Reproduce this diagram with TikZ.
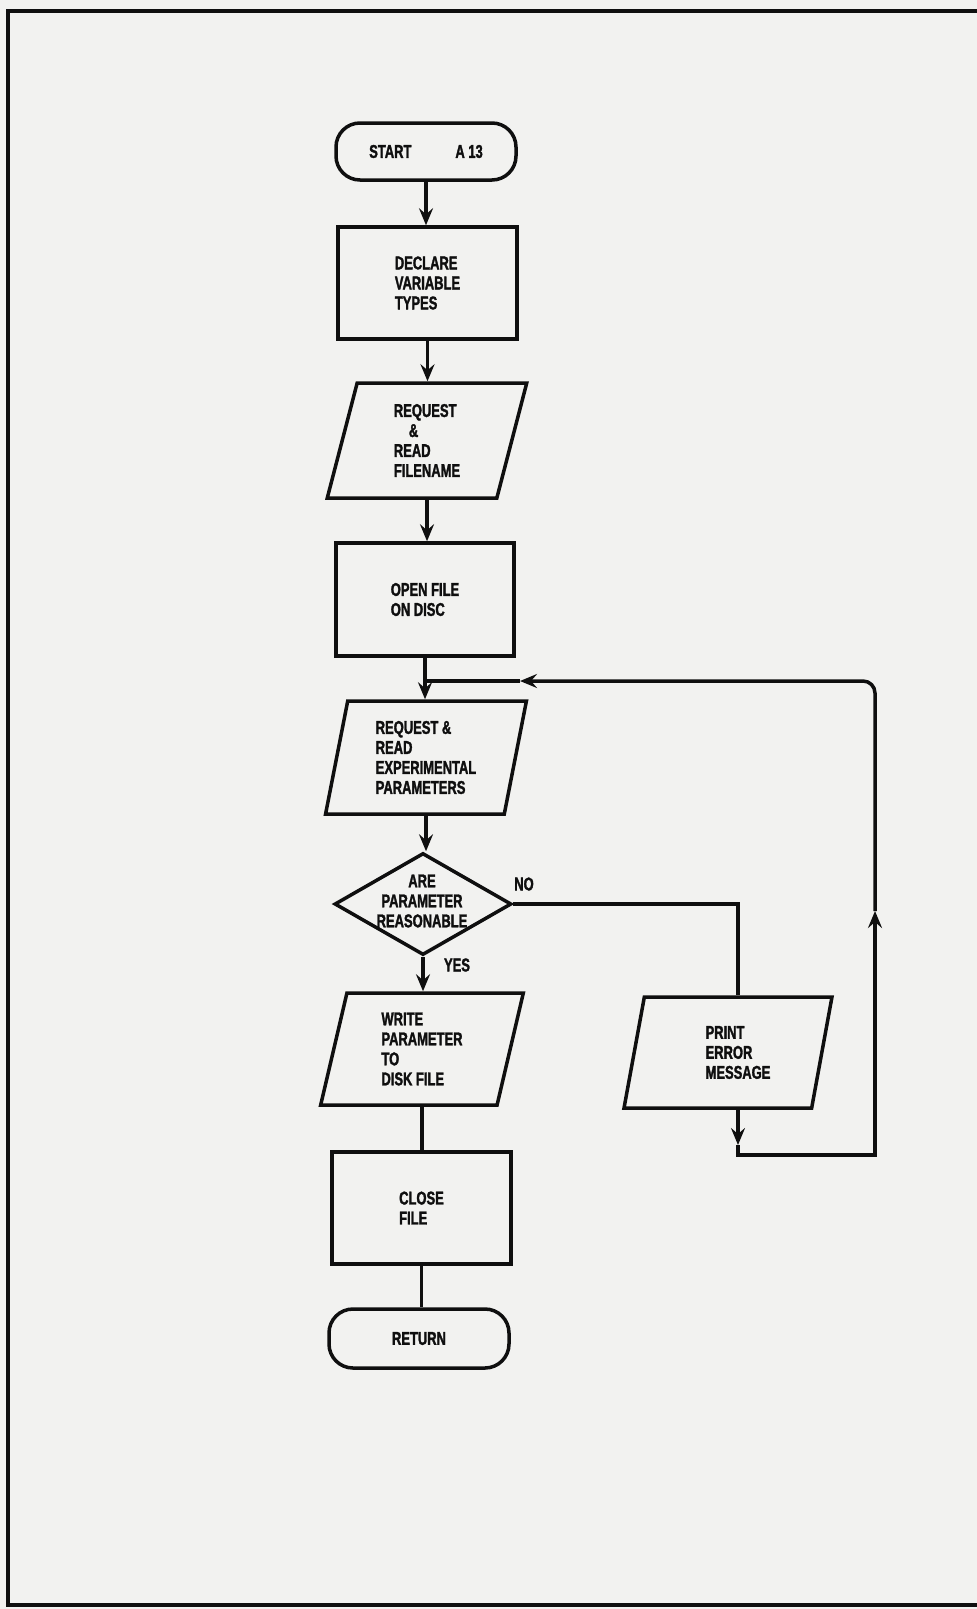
\documentclass[tikz,border=0pt]{standalone}
\usepackage{fontspec}
\setmainfont{Liberation Sans}[FakeStretch=0.7, BoldFeatures={FakeBold=1.6}]
\usetikzlibrary{shapes.geometric,arrows.meta}
\definecolor{paper}{RGB}{242,242,240}
\definecolor{ink}{RGB}{15,15,15}
\begin{document}
\begin{tikzpicture}[x=1pt,y=-1pt,
  every node/.style={font=\fontsize{18.5}{20}\selectfont\bfseries, text=ink},
  base/.style={draw=ink, line width=3.5pt, inner sep=0pt},
  procbox/.style={base, rectangle, align=left},
  iobox/.style={base, trapezium, trapezium left angle=79, trapezium right angle=101, trapezium stretches=true, align=left},
  termbox/.style={base, rectangle, rounded corners=24pt},
  decbox/.style={base, diamond},
  link/.style={draw=ink, line width=3.5pt},
  arr/.style={link, -{Stealth[length=17pt,width=14pt,inset=6pt]}},
]
\fill[paper] (0,0) rectangle (977,1609);
\useasboundingbox (0,0) rectangle (977,1609);
\draw[ink, line width=3.5pt] (977,11) -- (8,11) -- (8,1605) -- (977,1605);

\node[termbox, minimum width=180pt, minimum height=57pt] (start) at (426,151.5) {START\hspace{44pt}A 13};
\node[procbox, minimum width=179pt, minimum height=112pt] (declare) at (427.5,283) {DECLARE\\VARIABLE\\TYPES};
\node[iobox, minimum width=201pt, minimum height=115pt] (fname) at (427,440.5) {REQUEST\\\hspace*{15pt}\&\\READ\\FILENAME};
\node[procbox, minimum width=178pt, minimum height=113pt] (open) at (425,599.5) {OPEN FILE\\ON DISC};
\node[iobox, minimum width=201pt, minimum height=113pt] (params) at (426,757.5) {REQUEST \&\\READ\\EXPERIMENTAL\\PARAMETERS};
\node[decbox, minimum width=177pt, minimum height=102pt] (check) at (423,904) {};
\node[align=center] (checktxt) at (422,901) {ARE\\PARAMETER\\REASONABLE};
\node[iobox, minimum width=203pt, minimum height=112pt] (write) at (422,1049) {WRITE\\PARAMETER\\TO\\DISK FILE};
\node[iobox, minimum width=208pt, minimum height=111pt] (print) at (728,1052.5) {\hspace*{20pt}PRINT\\\hspace*{20pt}ERROR\\\hspace*{20pt}MESSAGE};
\node[procbox, minimum width=179pt, minimum height=112pt] (close) at (421.5,1208) {CLOSE\\FILE};
\node[termbox, minimum width=180pt, minimum height=59pt] (ret) at (419,1338.5) {RETURN};

\node (nolbl) at (524,884) {NO};
\node (yeslbl) at (457,965) {YES};

\draw[arr] (start.south) -- (start.south |- declare.north);
\draw[arr] (declare.south) -- (declare.south |- fname.north);
\draw[arr] (fname.south) -- (fname.south |- open.north);
\draw[arr] (open.south) -- (open.south |- params.north);
\draw[arr] (params.south) -- (params.south |- check.north);
\draw[arr] (check.south) -- (check.south |- write.north);
\draw[link] (write.south) -- (write.south |- close.north);
\draw[link] (close.south) -- (close.south |- ret.north);

\coordinate (nocorner) at (738,904);
\draw[link] (check.east) -- (nocorner) -- (nocorner |- print.north);

\coordinate (c1) at (738,1145);
\coordinate (loopbot) at (738,1155);
\coordinate (loopbr) at (875,1155);
\coordinate (c2) at (875,911);
\coordinate (looptr) at (875,681);
\coordinate (c3) at (520,681);
\coordinate (junc) at (open.south |- looptr);
\draw[arr] (print.south -| nocorner) -- (c1);
\draw[arr] (c1) -- (loopbot) -- (loopbr) -- (c2);
\draw[arr, rounded corners=12pt] (c2) -- (looptr) -- (c3);
\draw[link] (c3) -- (junc);
\end{tikzpicture}
\end{document}
